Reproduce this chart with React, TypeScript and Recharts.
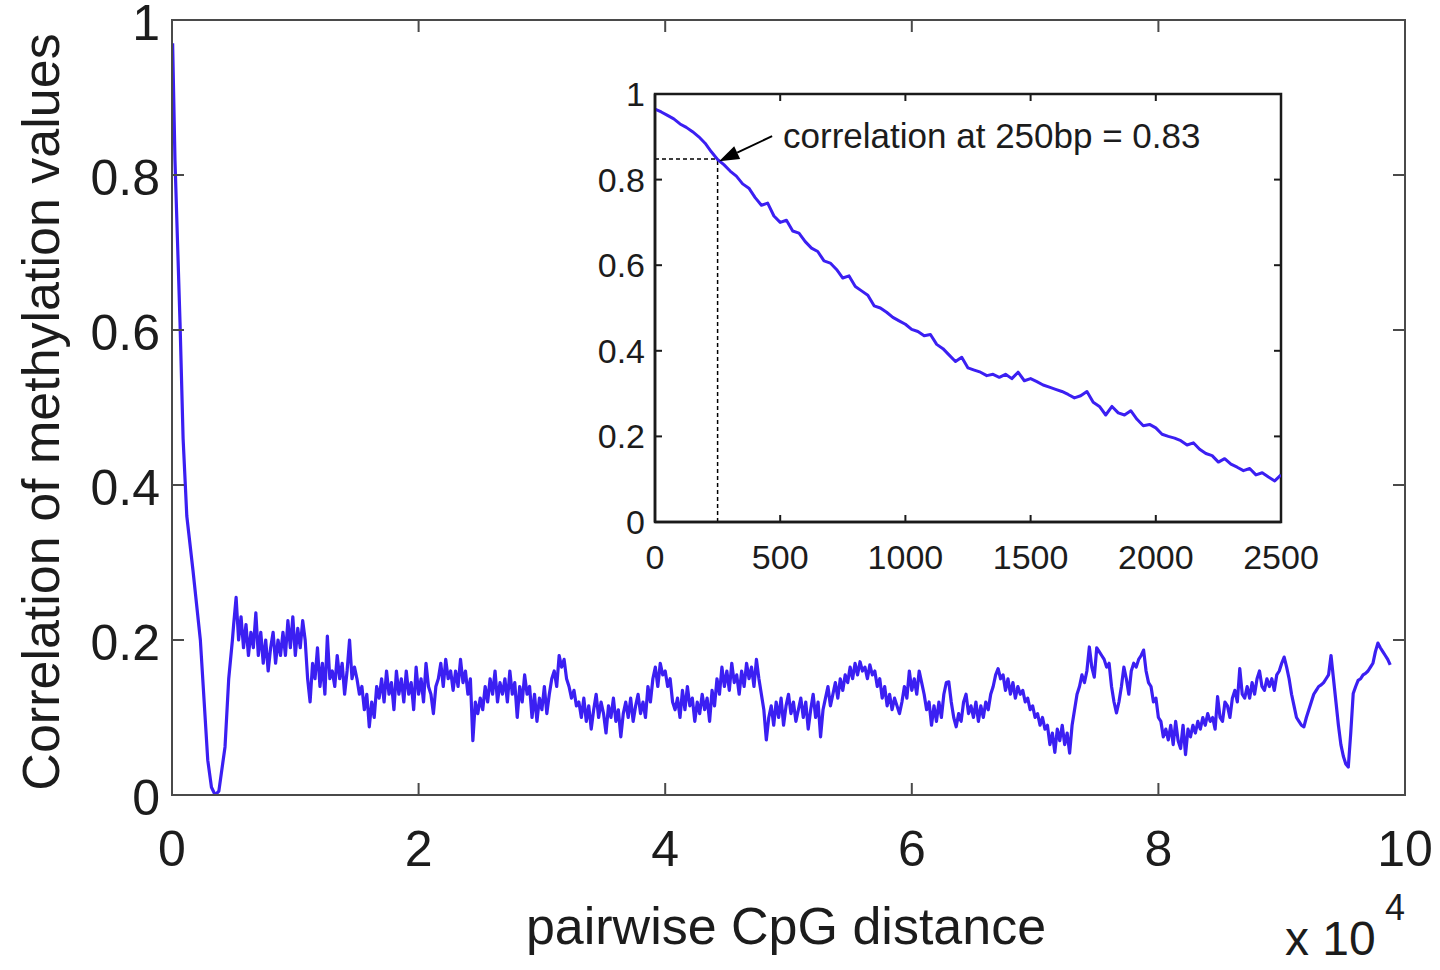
import { LineChart, Line, XAxis, YAxis, ReferenceArea, ReferenceLine, ReferenceDot } from 'recharts'

const FONT = '"Liberation Sans", Arial, Helvetica, sans-serif'
const TEXT = '#1c1c1c'
const SERIES = '#3b1ff2'
const MAIN_AXIS = '#4a4a4a'
const INSET_AXIS = '#1a1a1a'

// main panel: pairwise distance in units of 10^4 bp
const MAIN_X_TICKS = [0, 2, 4, 6, 8, 10]
const MAIN_Y_TICKS = [0, 0.2, 0.4, 0.6, 0.8, 1]

// steep start of the curve (distance, correlation)
const HEAD_X = [0.005, 0.024, 0.065, 0.09, 0.12, 0.17, 0.23, 0.29, 0.32, 0.35, 0.38, 0.43, 0.46, 0.49]
const HEAD_Y = [0.97, 0.82, 0.61, 0.46, 0.36, 0.29, 0.2, 0.045, 0.01, 0, 0.005, 0.062, 0.15, 0.2]

// noisy part, one value every 0.02 x 10^4 starting at 0.5
const BODY_START = 0.5
const BODY_STEP = 0.02
const BODY_Y = [
  0.22, 0.255, 0.2, 0.23, 0.19, 0.22, 0.18, 0.21, 0.19, 0.235,
  0.18, 0.21, 0.17, 0.2, 0.16, 0.19, 0.21, 0.17, 0.2, 0.18,
  0.21, 0.18, 0.225, 0.19, 0.23, 0.18, 0.215, 0.19, 0.225, 0.2,
  0.15, 0.12, 0.17, 0.15, 0.19, 0.14, 0.17, 0.13, 0.205, 0.15,
  0.16, 0.14, 0.18, 0.15, 0.17, 0.13, 0.16, 0.2, 0.15, 0.165,
  0.15, 0.13, 0.14, 0.11, 0.13, 0.088, 0.12, 0.1, 0.14, 0.125,
  0.15, 0.12, 0.16, 0.13, 0.145, 0.11, 0.16, 0.13, 0.15, 0.12,
  0.16, 0.13, 0.145, 0.11, 0.165, 0.13, 0.15, 0.12, 0.17, 0.14,
  0.13, 0.105, 0.14, 0.15, 0.17, 0.14, 0.175, 0.15, 0.16, 0.135,
  0.16, 0.14, 0.175, 0.145, 0.16, 0.13, 0.15, 0.07, 0.12, 0.105,
  0.125, 0.11, 0.14, 0.12, 0.15, 0.13, 0.16, 0.12, 0.145, 0.13,
  0.15, 0.12, 0.16, 0.13, 0.145, 0.1, 0.14, 0.12, 0.155, 0.13,
  0.14, 0.1, 0.13, 0.095, 0.125, 0.11, 0.14, 0.105, 0.13, 0.15,
  0.16, 0.14, 0.18, 0.165, 0.175, 0.15, 0.14, 0.125, 0.135, 0.115,
  0.12, 0.1, 0.125, 0.095, 0.115, 0.085, 0.11, 0.13, 0.1, 0.12,
  0.105, 0.08, 0.115, 0.1, 0.125, 0.095, 0.11, 0.075, 0.105, 0.12,
  0.1, 0.125, 0.095, 0.115, 0.13, 0.105, 0.12, 0.1, 0.14, 0.12,
  0.15, 0.165, 0.14, 0.17, 0.155, 0.16, 0.14, 0.15, 0.12, 0.11,
  0.125, 0.1, 0.135, 0.11, 0.14, 0.115, 0.125, 0.095, 0.12, 0.105,
  0.13, 0.11, 0.125, 0.095, 0.135, 0.115, 0.15, 0.13, 0.165, 0.14,
  0.16, 0.135, 0.17, 0.145, 0.155, 0.13, 0.16, 0.14, 0.17, 0.15,
  0.165, 0.14, 0.175, 0.15, 0.13, 0.11, 0.071, 0.1, 0.115, 0.09,
  0.12, 0.1, 0.125, 0.09, 0.115, 0.13, 0.105, 0.12, 0.095, 0.11,
  0.125, 0.1, 0.12, 0.085, 0.11, 0.13, 0.1, 0.12, 0.075, 0.11,
  0.125, 0.14, 0.115, 0.13, 0.145, 0.125, 0.15, 0.135, 0.155, 0.145,
  0.165, 0.15, 0.17, 0.155, 0.172, 0.16, 0.165, 0.15, 0.168, 0.155,
  0.16, 0.14, 0.15, 0.125, 0.14, 0.115, 0.13, 0.11, 0.125, 0.115,
  0.105, 0.12, 0.14, 0.125, 0.16, 0.135, 0.15, 0.13, 0.16, 0.145,
  0.13, 0.11, 0.12, 0.09, 0.115, 0.095, 0.12, 0.1, 0.13, 0.145,
  0.146, 0.12, 0.1, 0.088, 0.105, 0.095, 0.12, 0.13, 0.105, 0.115,
  0.1, 0.12, 0.095, 0.115, 0.1, 0.12, 0.11, 0.13, 0.14, 0.155,
  0.163, 0.15, 0.155, 0.135, 0.15, 0.13, 0.145, 0.125, 0.14, 0.13,
  0.135, 0.12, 0.125, 0.11, 0.115, 0.1, 0.105, 0.09, 0.1, 0.085,
  0.09, 0.065, 0.08, 0.055, 0.085, 0.07, 0.09, 0.065, 0.08, 0.054,
  0.09, 0.11, 0.13, 0.14, 0.155, 0.145, 0.16, 0.191, 0.165, 0.152,
  0.19, 0.185, 0.18, 0.175, 0.165, 0.17, 0.14, 0.12, 0.106, 0.12,
  0.14, 0.165, 0.15, 0.13, 0.16, 0.17, 0.165, 0.175, 0.18, 0.187,
  0.16, 0.145, 0.14, 0.12, 0.125, 0.1, 0.095, 0.075, 0.085, 0.071,
  0.09, 0.065, 0.095, 0.07, 0.06, 0.09, 0.052, 0.085, 0.075, 0.09,
  0.08, 0.095, 0.085, 0.1, 0.09, 0.105, 0.095, 0.1, 0.085, 0.127,
  0.1, 0.095, 0.12, 0.115, 0.1, 0.125, 0.135, 0.12, 0.163, 0.13,
  0.125, 0.14, 0.125, 0.145, 0.13, 0.15, 0.16, 0.14, 0.135, 0.15,
  0.14, 0.15, 0.135, 0.155, 0.16, 0.17, 0.178, 0.165, 0.15, 0.13,
  0.115, 0.1, 0.095, 0.09, 0.088, 0.1, 0.11, 0.12, 0.13, 0.135,
  0.14, 0.142, 0.145, 0.15, 0.155, 0.18, 0.15, 0.12, 0.09, 0.065,
  0.05, 0.04, 0.036, 0.08, 0.131, 0.14, 0.148, 0.15, 0.155, 0.157,
  0.16, 0.165, 0.17, 0.185, 0.196, 0.19, 0.185, 0.18, 0.175, 0.168,
]

// inset: first 2500 bp, one value every 25 bp
const INSET_X_TICKS = [0, 500, 1000, 1500, 2000, 2500]
const INSET_Y_TICKS = [0, 0.2, 0.4, 0.6, 0.8, 1]
const INSET_STEP = 25
const INSET_Y = [
  0.965, 0.958, 0.95, 0.942, 0.93, 0.922, 0.912, 0.9, 0.885, 0.865,
  0.847, 0.835, 0.82, 0.808, 0.79, 0.78, 0.758, 0.74, 0.745, 0.715,
  0.7, 0.705, 0.68, 0.675, 0.655, 0.64, 0.632, 0.61, 0.605, 0.59,
  0.57, 0.575, 0.55, 0.54, 0.53, 0.505, 0.5, 0.49, 0.478, 0.47,
  0.462, 0.45, 0.445, 0.435, 0.438, 0.415, 0.405, 0.39, 0.375, 0.385,
  0.36, 0.355, 0.35, 0.342, 0.345, 0.338, 0.345, 0.335, 0.35, 0.33,
  0.335, 0.328, 0.32, 0.315, 0.31, 0.305, 0.298, 0.29, 0.295, 0.305,
  0.28, 0.27, 0.25, 0.27, 0.255, 0.25, 0.26, 0.24, 0.225, 0.228,
  0.22, 0.205, 0.2, 0.196, 0.19, 0.18, 0.185, 0.17, 0.16, 0.155,
  0.14, 0.148, 0.135, 0.128, 0.12, 0.125, 0.11, 0.115, 0.105, 0.096,
  0.11,
]

// annotation
const MARK_BP = 250
const MARK_Y = 0.848
const ARROW_TIP = { x: 256, y: 0.843 }
const MARK_TEXT = 'correlation at 250bp = 0.83'

const mainData = [
  ...HEAD_X.map((x, i) => ({ x, y: HEAD_Y[i] })),
  ...BODY_Y.map((y, i) => ({ x: Math.round((BODY_START + i * BODY_STEP) * 1000) / 1000, y })),
]
const insetData = INSET_Y.map((y, i) => ({ x: i * INSET_STEP, y }))

// plot boxes (page pixels)
const MAIN_BOX = { left: 172, top: 20, right: 1405, bottom: 795 }
const INSET_POS = { left: 560, top: 60, width: 790, height: 540 }
const INSET_BOX = { left: 655, top: 94, right: 1281, bottom: 522 }

const fmt = (v: number) => String(v)

function MainXTick({ x, y, payload }: any) {
  return (
    <g>
      <line x1={x} x2={x} y1={y} y2={y - 12} stroke={MAIN_AXIS} strokeWidth={2} />
      <line x1={x} x2={x} y1={MAIN_BOX.top} y2={MAIN_BOX.top + 12} stroke={MAIN_AXIS} strokeWidth={2} />
      <text x={x} y={y + 71} textAnchor="middle" fontSize={50} fontFamily={FONT} fill={TEXT}>{fmt(payload.value)}</text>
    </g>
  )
}

function MainYTick({ x, y, payload }: any) {
  return (
    <g>
      <line x1={x} x2={x + 12} y1={y} y2={y} stroke={MAIN_AXIS} strokeWidth={2} />
      <line x1={MAIN_BOX.right} x2={MAIN_BOX.right - 12} y1={y} y2={y} stroke={MAIN_AXIS} strokeWidth={2} />
      <text x={x - 12} y={y + 20} textAnchor="end" fontSize={50} fontFamily={FONT} fill={TEXT}>{fmt(payload.value)}</text>
    </g>
  )
}

function InsetXTick({ x, y, payload }: any) {
  const top = INSET_BOX.top - INSET_POS.top
  return (
    <g>
      <line x1={x} x2={x} y1={y} y2={y - 7} stroke={INSET_AXIS} strokeWidth={2} />
      <line x1={x} x2={x} y1={top} y2={top + 7} stroke={INSET_AXIS} strokeWidth={2} />
      <text x={x} y={y + 47} textAnchor="middle" fontSize={34} fontFamily={FONT} fill={TEXT}>{fmt(payload.value)}</text>
    </g>
  )
}

function InsetYTick({ x, y, payload }: any) {
  const right = INSET_BOX.right - INSET_POS.left
  return (
    <g>
      <line x1={x} x2={x + 7} y1={y} y2={y} stroke={INSET_AXIS} strokeWidth={2} />
      <line x1={right} x2={right - 7} y1={y} y2={y} stroke={INSET_AXIS} strokeWidth={2} />
      <text x={x - 10} y={y + 12} textAnchor="end" fontSize={34} fontFamily={FONT} fill={TEXT}>{fmt(payload.value)}</text>
    </g>
  )
}

function ArrowNote({ cx, cy }: any) {
  const tx = cx + 53
  const ty = cy - 25
  const len = Math.hypot(tx - cx, ty - cy)
  const ux = (tx - cx) / len
  const uy = (ty - cy) / len
  const bx = cx + ux * 20
  const by = cy + uy * 20
  const head = `${cx},${cy} ${bx - uy * 7},${by + ux * 7} ${bx + uy * 7},${by - ux * 7}`
  return (
    <g>
      <line x1={bx} y1={by} x2={tx} y2={ty} stroke="#000" strokeWidth={2} />
      <polygon points={head} fill="#000" />
      <text x={cx + 64} y={cy - 13} fontSize={35} fontFamily={FONT} fill={TEXT}>{MARK_TEXT}</text>
    </g>
  )
}

export default function App() {
  return (
    <div style={{ position: 'absolute', left: 0, top: 0, width: 1440, height: 970, background: '#fff', overflow: 'hidden' }}>
      <div style={{ position: 'absolute', left: 0, top: 0 }}>
        <LineChart
          width={1440}
          height={970}
          data={mainData}
          margin={{ top: MAIN_BOX.top, right: 1440 - MAIN_BOX.right, bottom: 970 - MAIN_BOX.bottom - 1, left: MAIN_BOX.left - 1 }}
        >
          <ReferenceArea x1={0} x2={10} y1={0} y2={1} fill="none" stroke={MAIN_AXIS} strokeWidth={2} />
          <XAxis
            type="number"
            dataKey="x"
            domain={[0, 10]}
            ticks={MAIN_X_TICKS}
            interval={0}
            allowDataOverflow
            height={1}
            tickSize={0}
            tickMargin={0}
            axisLine={{ stroke: MAIN_AXIS, strokeWidth: 2 }}
            tick={<MainXTick />}
          />
          <YAxis
            type="number"
            domain={[0, 1]}
            ticks={MAIN_Y_TICKS}
            interval={0}
            allowDataOverflow
            width={1}
            tickSize={0}
            tickMargin={0}
            axisLine={{ stroke: MAIN_AXIS, strokeWidth: 2 }}
            tick={<MainYTick />}
          />
          <Line
            type="linear"
            dataKey="y"
            stroke={SERIES}
            strokeWidth={3.2}
            strokeLinejoin="round"
            dot={false}
            isAnimationActive={false}
          />
        </LineChart>
      </div>

      <div style={{ position: 'absolute', left: INSET_POS.left, top: INSET_POS.top }}>
        <LineChart
          width={INSET_POS.width}
          height={INSET_POS.height}
          data={insetData}
          margin={{
            top: INSET_BOX.top - INSET_POS.top,
            right: INSET_POS.left + INSET_POS.width - INSET_BOX.right,
            bottom: INSET_POS.top + INSET_POS.height - INSET_BOX.bottom - 1,
            left: INSET_BOX.left - INSET_POS.left - 1,
          }}
        >
          <ReferenceArea x1={0} x2={2500} y1={0} y2={1} fill="#fff" stroke={INSET_AXIS} strokeWidth={2.5} />
          <XAxis
            type="number"
            dataKey="x"
            domain={[0, 2500]}
            ticks={INSET_X_TICKS}
            interval={0}
            allowDataOverflow
            height={1}
            tickSize={0}
            tickMargin={0}
            axisLine={{ stroke: INSET_AXIS, strokeWidth: 2.5 }}
            tick={<InsetXTick />}
          />
          <YAxis
            type="number"
            domain={[0, 1]}
            ticks={INSET_Y_TICKS}
            interval={0}
            allowDataOverflow
            width={1}
            tickSize={0}
            tickMargin={0}
            axisLine={{ stroke: INSET_AXIS, strokeWidth: 2.5 }}
            tick={<InsetYTick />}
          />
          <ReferenceLine
            segment={[{ x: 0, y: MARK_Y }, { x: MARK_BP, y: MARK_Y }]}
            stroke="#000"
            strokeWidth={1.5}
            strokeDasharray="4 3"
          />
          <ReferenceLine
            segment={[{ x: MARK_BP, y: 0 }, { x: MARK_BP, y: MARK_Y }]}
            stroke="#000"
            strokeWidth={1.5}
            strokeDasharray="4 3"
          />
          <Line
            type="linear"
            dataKey="y"
            stroke={SERIES}
            strokeWidth={3}
            strokeLinejoin="round"
            dot={false}
            isAnimationActive={false}
          />
          <ReferenceDot x={ARROW_TIP.x} y={ARROW_TIP.y} r={0} shape={(p: any) => <ArrowNote {...p} />} />
        </LineChart>
      </div>

      <svg width={1440} height={970} style={{ position: 'absolute', left: 0, top: 0, pointerEvents: 'none' }}>
        <text
          x={59}
          y={412}
          transform="rotate(-90 59 412)"
          textAnchor="middle"
          fontSize={52}
          fontFamily={FONT}
          fill={TEXT}
        >
          Correlation of methylation values
        </text>
        <text x={786} y={944} textAnchor="middle" fontSize={52} fontFamily={FONT} fill={TEXT}>
          pairwise CpG distance
        </text>
        <text x={1285} y={955} fontSize={48} fontFamily={FONT} fill={TEXT}>x 10</text>
        <text x={1385} y={920} fontSize={36} fontFamily={FONT} fill={TEXT}>4</text>
      </svg>
    </div>
  )
}
